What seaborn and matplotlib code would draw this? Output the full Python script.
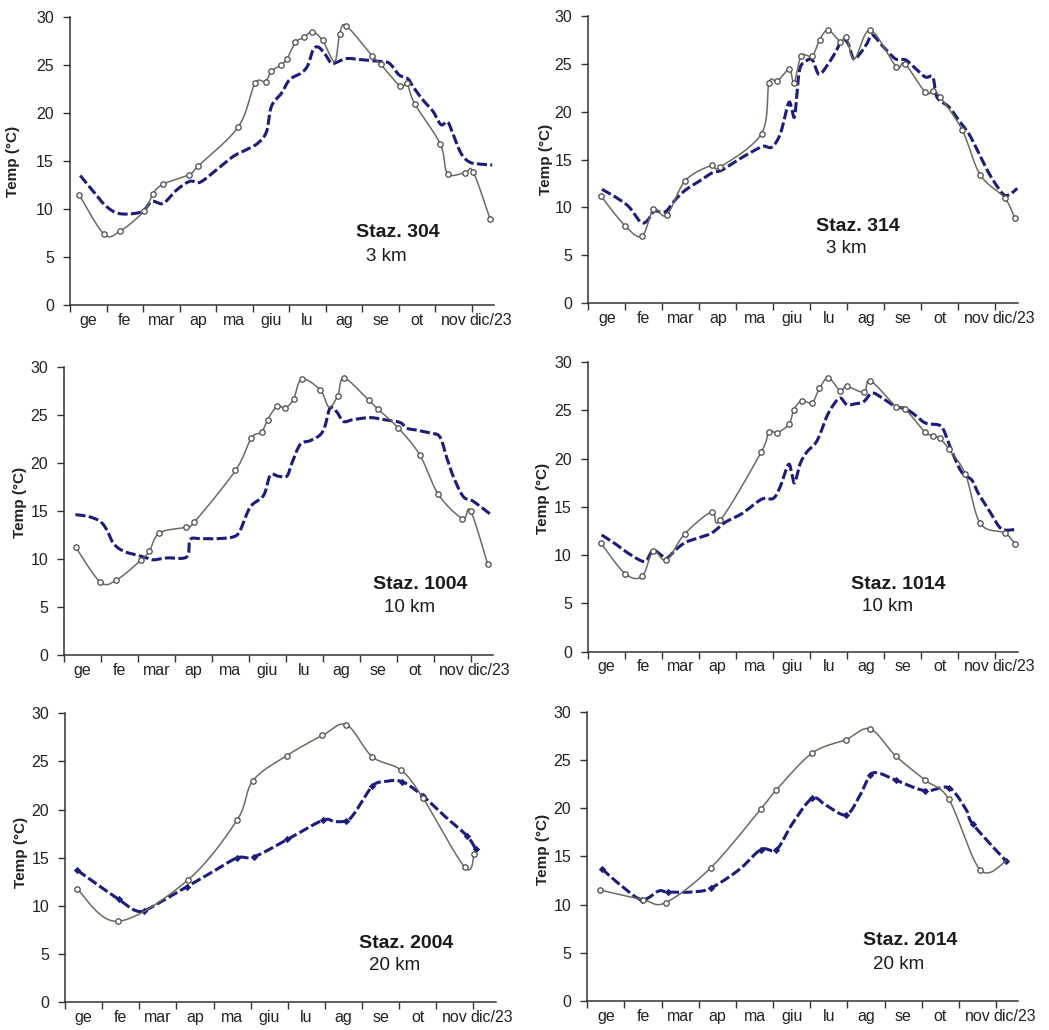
import numpy as np
import matplotlib
matplotlib.use("Agg")
import matplotlib.pyplot as plt
import seaborn as sns

# month labels (centred between month boundaries)
months = ['ge', 'fe', 'mar', 'ap', 'ma', 'giu', 'lu', 'ag', 'se', 'ot', 'nov', 'dic/23']

# ---- Staz. 304 (3 km) ----
x304_obs = [0.25, 0.93, 1.37, 2.03, 2.27, 2.55, 3.26, 3.51, 4.61, 5.06, 5.35, 5.51, 5.77, 5.94, 6.17, 6.40,
            6.63, 6.91, 7.24, 7.38, 7.56, 8.26, 8.50, 9.04, 9.22, 9.43, 10.13, 10.33, 10.81, 11.03, 11.49]
t304_obs = [11.5, 7.4, 7.7, 9.8, 11.6, 12.6, 13.6, 14.5, 18.6, 23.1, 23.3, 24.4, 25.0, 25.7, 27.4, 27.9,
            28.5, 27.6, 25.4, 28.3, 29.1, 26.0, 25.1, 22.8, 23.1, 21.0, 16.8, 13.7, 13.8, 13.9, 9.0]
hide304 = [18]
x304_mod = [0.28, 0.65, 0.96, 1.28, 1.65, 2.0, 2.24, 2.55, 2.92, 3.28, 3.56, 4.01, 4.47, 4.83, 5.15, 5.38,
            5.51, 5.79, 6.01, 6.33, 6.51, 6.65, 6.79, 6.97, 7.15, 7.29, 7.56, 7.92, 8.47, 8.74, 9.0, 9.24,
            9.38, 9.65, 9.93, 10.15, 10.33, 10.47, 10.7, 10.93, 11.2, 11.55]
t304_mod = [13.5, 11.8, 10.4, 9.6, 9.5, 9.8, 10.8, 10.6, 12.0, 12.9, 12.8, 14.1, 15.5, 16.2, 16.9, 18.1,
            20.7, 22.1, 23.5, 24.2, 25.0, 26.6, 26.9, 26.2, 25.2, 25.3, 25.7, 25.6, 25.4, 25.2, 24.0, 23.6,
            22.8, 21.4, 20.2, 18.8, 19.1, 17.9, 15.8, 14.9, 14.7, 14.6]

# ---- Staz. 314 (3 km) ----
x314_obs = [0.34, 0.99, 1.45, 1.76, 2.12, 2.62, 3.33, 3.55, 4.68, 4.88, 5.11, 5.43, 5.56, 5.75, 6.05, 6.25,
            6.48, 6.81, 6.97, 7.19, 7.62, 8.32, 8.55, 9.11, 9.31, 9.51, 10.1, 10.59, 11.25, 11.52]
t314_obs = [11.2, 8.1, 7.0, 9.8, 9.2, 12.8, 14.4, 14.2, 17.7, 23.0, 23.2, 24.4, 23.0, 25.8, 25.8, 27.5,
            28.5, 27.3, 27.8, 25.5, 28.5, 24.7, 25.0, 22.0, 22.2, 21.5, 18.1, 13.4, 11.0, 8.9]
hide314 = [19]
x314_mod = [0.37, 0.73, 1.09, 1.41, 1.59, 1.77, 1.99, 2.13, 2.35, 2.62, 2.98, 3.34, 3.61, 4.06, 4.51, 4.74,
            4.96, 5.19, 5.41, 5.5, 5.58, 5.7, 5.86, 6.05, 6.23, 6.45, 6.68, 6.86, 7.02, 7.17, 7.35, 7.53,
            7.67, 7.94, 8.3, 8.57, 8.84, 9.11, 9.31, 9.42, 9.74, 10.01, 10.28, 10.56, 10.82, 11.18, 11.36, 11.59]
t314_mod = [11.9, 11.1, 10.1, 8.5, 8.6, 9.6, 9.5, 9.7, 10.8, 11.8, 12.7, 13.6, 13.9, 15.0, 16.0, 16.4,
            16.3, 17.7, 20.9, 20.2, 19.6, 24.2, 25.2, 25.4, 23.9, 24.8, 26.2, 27.5, 27.1, 25.5, 26.1, 27.1,
            28.0, 26.9, 25.5, 25.4, 24.5, 23.6, 23.6, 21.5, 20.5, 19.1, 17.7, 15.6, 13.6, 11.5, 11.3, 12.0]

# ---- Staz. 1004 (10 km) ----
x1004_obs = [0.32, 0.98, 1.42, 2.09, 2.31, 2.58, 3.30, 3.52, 4.64, 5.07, 5.35, 5.51, 5.77, 5.98, 6.21, 6.43,
             6.93, 7.17, 7.41, 7.58, 8.25, 8.49, 9.05, 9.63, 10.13, 10.78, 11.0, 11.46]
t1004_obs = [11.2, 7.6, 7.8, 9.9, 10.8, 12.7, 13.3, 13.8, 19.2, 22.6, 23.2, 24.5, 25.9, 25.7, 26.6, 28.7,
             27.6, 25.8, 27.0, 28.8, 26.5, 25.6, 23.6, 20.8, 16.7, 14.2, 15.0, 9.5]
hide1004 = [17]
x1004_mod = [0.31, 0.67, 0.98, 1.16, 1.34, 1.61, 1.97, 2.24, 2.42, 2.78, 3.32, 3.41, 3.68, 4.14, 4.59, 4.77,
             5.04, 5.4, 5.58, 5.8, 6.03, 6.16, 6.39, 6.66, 6.93, 7.06, 7.2, 7.38, 7.56, 7.83, 8.28, 8.64,
             9.09, 9.27, 9.54, 9.9, 10.17, 10.35, 10.53, 10.8, 11.07, 11.52]
t1004_mod = [14.6, 14.4, 13.9, 13.0, 11.6, 10.8, 10.4, 10.1, 9.9, 10.1, 10.2, 12.0, 12.1, 12.1, 12.3, 13.0,
             15.4, 16.6, 18.7, 18.6, 18.6, 19.9, 21.9, 22.3, 22.9, 23.8, 25.7, 25.3, 24.3, 24.5, 24.7, 24.5,
             24.2, 23.6, 23.4, 23.1, 22.7, 20.6, 18.6, 16.5, 16.0, 14.7]

# ---- Staz. 1014 (10 km) ----
x1014_obs = [0.34, 1.0, 1.46, 1.76, 2.12, 2.61, 3.34, 3.57, 4.68, 4.88, 5.11, 5.43, 5.56, 5.77, 6.05, 6.25,
             6.49, 6.81, 6.98, 7.45, 7.62, 8.32, 8.55, 9.09, 9.31, 9.5, 9.74, 10.19, 10.59, 11.25, 11.52]
t1014_obs = [11.3, 8.1, 7.8, 10.4, 9.5, 12.2, 14.5, 13.6, 20.7, 22.8, 22.7, 23.6, 25.1, 26.0, 25.8, 27.3,
             28.4, 27.0, 27.5, 26.9, 28.1, 25.4, 25.2, 22.8, 22.4, 22.1, 21.0, 18.4, 13.3, 12.3, 11.2]
hide1014 = []
x1014_mod = [0.37, 0.73, 1.09, 1.45, 1.59, 1.75, 1.95, 2.13, 2.35, 2.62, 2.98, 3.34, 3.7, 4.15, 4.6, 4.78,
             5.01, 5.19, 5.41, 5.5, 5.58, 5.73, 5.91, 6.14, 6.27, 6.45, 6.63, 6.81, 6.99, 7.22, 7.44, 7.67,
             7.94, 8.3, 8.57, 8.84, 9.11, 9.47, 9.6, 9.82, 10.09, 10.36, 10.54, 10.82, 11.09, 11.27, 11.59]
t1014_mod = [12.1, 11.2, 10.2, 9.4, 9.5, 10.5, 10.1, 9.7, 10.5, 11.3, 11.8, 12.3, 13.4, 14.3, 15.6, 15.9,
             15.9, 17.1, 19.4, 18.5, 17.5, 19.5, 20.7, 21.6, 22.6, 24.4, 25.6, 26.3, 25.6, 25.7, 25.9, 26.8,
             26.3, 25.4, 25.2, 24.5, 23.7, 23.5, 23.0, 20.8, 18.6, 17.8, 16.4, 14.7, 13.0, 12.6, 12.7]

# ---- Staz. 2004 (20 km) ----
x2004_obs = [0.32, 1.42, 3.31, 4.63, 5.06, 5.97, 6.93, 7.58, 8.27, 9.05, 9.64, 10.77, 11.02]
t2004_obs = [11.8, 8.4, 12.7, 18.9, 23.0, 25.6, 27.7, 28.8, 25.5, 24.1, 21.2, 14.0, 15.4]
hide2004 = []
x2004_mod = [0.33, 0.95, 1.44, 1.85, 2.12, 2.57, 3.29, 4.0, 4.64, 5.09, 5.99, 6.94, 7.25, 7.58, 7.79, 8.27,
             8.6, 9.08, 9.64, 10.23, 10.82, 11.06]
t2004_mod = [13.7, 12.0, 10.7, 9.6, 9.5, 10.4, 12.0, 13.6, 15.0, 15.1, 16.9, 18.9, 18.75, 18.85, 19.6, 22.4,
             22.9, 22.9, 21.4, 19.3, 17.3, 15.9]
mark2004 = [0, 2, 4, 6, 8, 9, 10, 11, 13, 15, 17, 18, 20, 21]

# ---- Staz. 2014 (20 km) ----
x2014_obs = [0.34, 1.49, 2.11, 3.32, 4.67, 5.09, 6.05, 6.96, 7.61, 8.3, 9.09, 9.73, 10.57, 11.27]
t2014_obs = [11.5, 10.5, 10.2, 13.8, 19.9, 21.9, 25.7, 27.1, 28.2, 25.4, 22.9, 20.9, 13.6, 14.5]
hide2014 = [13]
x2014_mod = [0.39, 0.93, 1.47, 1.92, 2.16, 2.82, 3.32, 4.08, 4.67, 5.09, 5.52, 6.05, 6.42, 6.96, 7.32, 7.61,
             7.86, 8.3, 9.09, 9.73, 10.2, 10.38, 11.27]
t2014_mod = [13.7, 11.9, 10.5, 11.4, 11.3, 11.3, 11.7, 13.6, 15.7, 15.7, 18.4, 21.0, 20.3, 19.3, 21.2, 23.4,
             23.6, 22.9, 21.8, 22.1, 19.8, 18.3, 14.5]
mark2014 = [0, 2, 4, 6, 8, 9, 11, 13, 15, 17, 18, 19, 21, 22]

#################################################################################

def smooth(x, y, n=16):
    # excel-like smoothed line (bezier through the points)
    pts = np.column_stack([x, y]).astype(float)
    P = np.vstack([pts[0], pts, pts[-1]])
    t = np.linspace(0, 1, n, endpoint=False)[:, None]
    segs = []
    for i in range(1, len(P) - 2):
        p0, p1, p2, p3 = P[i - 1], P[i], P[i + 1], P[i + 2]
        c1 = p1 + (p2 - p0) / 6
        c2 = p2 - (p3 - p1) / 6
        segs.append((1 - t)**3 * p1 + 3 * (1 - t)**2 * t * c1 + 3 * (1 - t) * t**2 * c2 + t**3 * p2)
    segs.append(pts[-1:])
    out = np.vstack(segs)
    return out[:, 0], out[:, 1]

#################################################################################

sns.set_theme(style="ticks")
plt.rcParams['font.family'] = ['Liberation Sans', 'DejaVu Sans']

obs_color = '#6b6b5e'
mod_color = '#1c1c7c'

panels = [
    # axes rect, data, title, dist, title pos, dist pos, ylabel coords
    ([0.0667, 0.7039, 0.4042, 0.2793], x304_obs, t304_obs, hide304, x304_mod, t304_mod, None,
     'Staz. 304', '3 km', (8.97, 7.6), (8.65, 5.1), (-0.118, 0.5)),
    ([0.5608, 0.7055, 0.4093, 0.2792], x314_obs, t314_obs, hide314, x314_mod, t314_mod, None,
     'Staz. 314', '3 km', (7.28, 8.0), (6.96, 5.7), (-0.082, 0.5)),
    ([0.0610, 0.3641, 0.4087, 0.2799], x1004_obs, t1004_obs, hide1004, x1004_mod, t1004_mod, None,
     'Staz. 1004', '10 km', (9.65, 7.3), (9.36, 4.9), (-0.087, 0.53)),
    ([0.5605, 0.3673, 0.4096, 0.2810], x1014_obs, t1014_obs, hide1014, x1014_mod, t1014_mod, None,
     'Staz. 1014', '10 km', (8.39, 7.0), (8.1, 4.7), (-0.088, 0.53)),
    ([0.0620, 0.0269, 0.4106, 0.2806], x2004_obs, t2004_obs, hide2004, x2004_mod, t2004_mod, mark2004,
     'Staz. 2004', '20 km', (9.19, 6.1), (8.87, 3.8), (-0.085, 0.52)),
    ([0.5599, 0.0282, 0.4109, 0.2809], x2014_obs, t2014_obs, hide2014, x2014_mod, t2014_mod, mark2014,
     'Staz. 2014', '20 km', (8.69, 6.3), (8.39, 3.8), (-0.087, 0.525)),
]

fig = plt.figure(figsize=(10.49, 10.30), dpi=100)

for rect, xo, to, hide, xm, tm, mark, title, dist, tpos, dpos, ylc in panels:
    ax = fig.add_axes(rect)

    # model (dashed)
    sx, sy = smooth(xm, tm)
    sns.lineplot(x=sx, y=sy, sort=False, estimator=None, color=mod_color, lw=2.2,
                 linestyle=(0, (3.3, 1.1)), ax=ax, zorder=2)
    if mark is not None:
        sns.scatterplot(x=np.array(xm)[mark], y=np.array(tm)[mark], marker='D', s=14,
                        color=mod_color, edgecolor=mod_color, linewidth=0, ax=ax, zorder=3)

    # observations (solid + open circles)
    sx, sy = smooth(xo, to)
    sns.lineplot(x=sx, y=sy, sort=False, estimator=None, color=obs_color, lw=1.1, ax=ax, zorder=4)
    keep = [i for i in range(len(xo)) if i not in hide]
    sns.scatterplot(x=np.array(xo)[keep], y=np.array(to)[keep], marker='o', s=15,
                    color='white', edgecolor='#4a4a4a', linewidth=0.9, ax=ax, zorder=5)

    ax.text(*tpos, title, ha='center', va='center', fontsize=14, fontweight='bold', color='#1a1a1a')
    ax.text(*dpos, dist, ha='center', va='center', fontsize=13.5, color='#1a1a1a')

    ax.set_xlim(0, 11.6)
    ax.set_ylim(0, 30)
    ax.set_yticks(range(0, 31, 5))
    ax.set_xticks(range(12))
    ax.set_xticklabels([])
    ax.set_xticks(np.arange(12) + 0.5, labels=months, minor=True)
    ax.tick_params(axis='x', which='major', length=5, width=1, color='#333333', direction='out')
    ax.tick_params(axis='x', which='minor', length=0, pad=5.5, labelsize=11.5, labelcolor='#222222')
    ax.tick_params(axis='y', length=5, width=1, color='#333333', pad=6.5, labelsize=11.5, labelcolor='#222222')

    ax.set_ylabel('Temp (°C)', fontsize=11, fontweight='bold', color='#222222')
    ax.yaxis.set_label_coords(*ylc)
    ax.set_xlabel('')

    sns.despine(ax=ax)
    for side in ['left', 'bottom']:
        ax.spines[side].set_color('#333333')
        ax.spines[side].set_linewidth(1.1)

fig.savefig('out.png', dpi=100, facecolor='white')
